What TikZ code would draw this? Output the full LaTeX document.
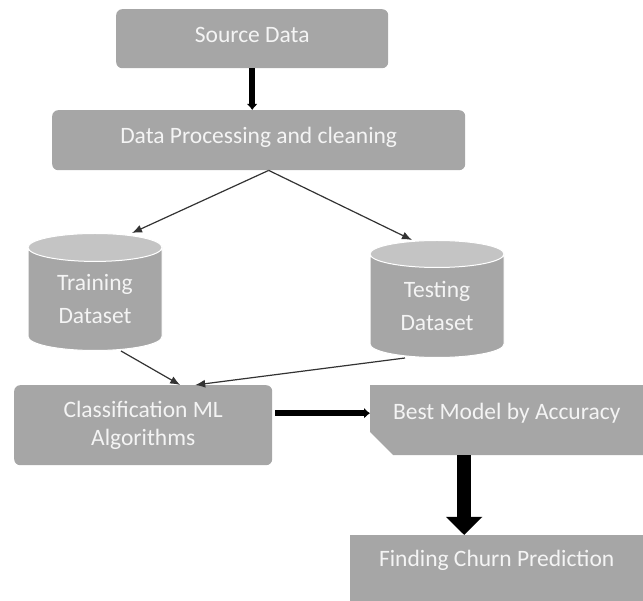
\documentclass[tikz,border=0pt]{standalone}
\usepackage{fontspec}
\setmainfont{Carlito}
\usepackage{tikz}
\usetikzlibrary{shapes.geometric,shapes.misc,arrows.meta,calc}

\definecolor{boxgray}{HTML}{A6A6A6}
\definecolor{topgray}{HTML}{C4C4C4}
\definecolor{boxtext}{HTML}{F4F4F4}
\definecolor{linegray}{HTML}{333333}

\begin{document}
\begin{tikzpicture}[x=1pt,y=-1pt]
    % `process' is used for the grey rounded steps.
    % `dbase' is used for the two data sets (cylinders).
    % `flow' / `push' are the thin and the thick connectors.
    \tikzstyle{process} = [fill=boxgray,rounded corners=6pt,text=boxtext,align=center,anchor=north west,inner sep=0pt]
    \tikzstyle{result} = [fill=boxgray,text=boxtext,align=center,anchor=north west,inner sep=0pt]
    \tikzstyle{dbase} = [cylinder,shape border rotate=90,aspect=0.37,cylinder uses custom fill,cylinder body fill=boxgray,cylinder end fill=topgray,draw=white,line width=1pt,minimum width=134pt,minimum height=117pt,text=boxtext,align=center,anchor=north,inner sep=0pt]
    \tikzstyle{flow} = [draw=linegray,line width=1.2pt,-{Latex[length=10pt,width=8pt]}]
    \tikzstyle{push} = [draw=black,line width=6pt,-{Latex[length=6pt,width=11pt]}]
    \tikzstyle{bigpush} = [draw=black,line width=14pt,-{Triangle[length=18pt,width=35pt]}]
    \useasboundingbox (0,0) rectangle (643,601);
    \fontsize{23.5}{28}\selectfont
    %
    \node[process,minimum width=272pt,minimum height=59pt,text depth=8pt] (src) at (116,9) {Source Data};
    \node[process,minimum width=413pt,minimum height=60pt,text depth=10pt] (clean) at (52,110) {Data Processing and cleaning};
    \node[dbase] (train) at (95,233) {Training\\[5pt]Dataset};
    \node[dbase] (test) at (437,240) {Testing\\[5pt]Dataset};
    \node[process,minimum width=258pt,minimum height=80pt] (classify) at (14,385) {Classification ML\\Algorithms};
    \node[result,chamfered rectangle,chamfered rectangle corners=south west,chamfered rectangle xsep=12pt,chamfered rectangle ysep=11pt,minimum width=273pt,minimum height=70pt,text height=14pt,text depth=16pt] (best) at (370,385) {Best Model by Accuracy};
    \node[result,minimum width=293pt,minimum height=70pt,text height=14pt,text depth=21pt] (churn) at (350,535) {Finding Churn Prediction};
    %
    % Draw connectors.
    \draw[push] (src.south) -- (src.south |- clean.north);
    \draw[flow] ([xshift=10pt]clean.south) -- ([xshift=37pt]train.north);
    \draw[flow] ([xshift=10pt]clean.south) -- ([xshift=-25pt]test.north);
    \draw[flow] ([xshift=26pt]train.south) -- ([xshift=37pt]classify.north);
    \draw[flow] ([xshift=-32pt]test.south) -- ([xshift=52pt]classify.north);
    \draw[push] ([yshift=12pt,xshift=3pt]classify.east) -- ([yshift=7pt]best.west);
    \draw[bigpush] ([xshift=-42.5pt]best.south) -- ([xshift=-32.5pt]churn.north);
\end{tikzpicture}
\end{document}
